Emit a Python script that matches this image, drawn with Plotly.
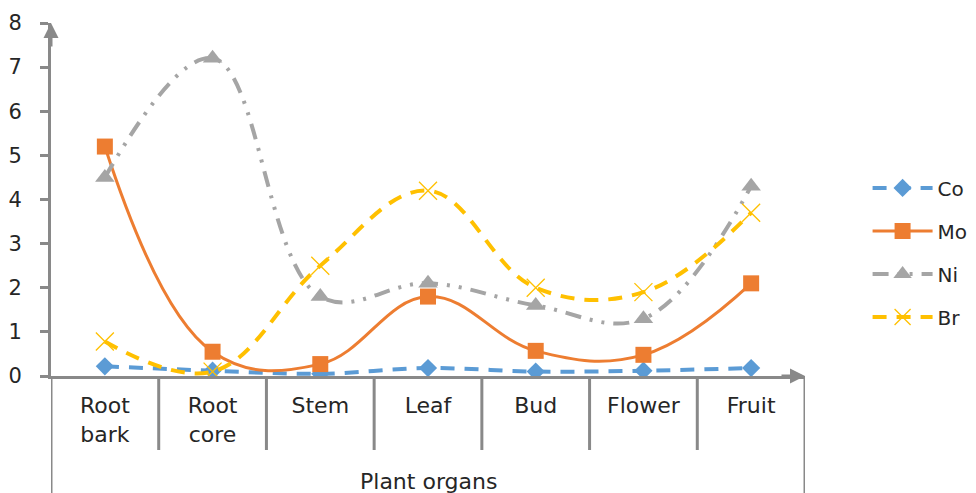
import plotly.graph_objects as go

categories = ["Root<br>bark", "Root<br>core", "Stem", "Leaf", "Bud", "Flower", "Fruit"]
co = [0.22, 0.12, 0.05, 0.18, 0.10, 0.12, 0.18]
mo = [5.20, 0.55, 0.27, 1.80, 0.57, 0.48, 2.10]
ni = [4.50, 7.20, 1.80, 2.10, 1.60, 1.30, 4.30]
br = [0.78, 0.10, 2.50, 4.20, 2.00, 1.90, 3.70]
y_ticks = [0, 1, 2, 3, 4, 5, 6, 7, 8]
x_title = "Plant organs"

AX = "#898989"
TXT = "#262626"
FONT = "DejaVu Sans"

fig = go.Figure()
idx = list(range(len(categories)))

fig.add_trace(go.Scatter(x=idx, y=co, name="Co", mode="lines+markers", legendgroup="co",
                         line=dict(color="#5B9BD5", width=4, dash="14px,10px", shape="spline", smoothing=1),
                         marker=dict(symbol="diamond", size=14, color="#5B9BD5")))
fig.add_trace(go.Scatter(x=idx, y=mo, name="Mo", mode="lines+markers", legendgroup="mo",
                         line=dict(color="#ED7D31", width=3, shape="spline", smoothing=1.15),
                         marker=dict(symbol="square", size=16, color="#ED7D31")))
fig.add_trace(go.Scatter(x=idx, y=ni, name="Ni", mode="lines+markers", legendgroup="ni",
                         line=dict(color="#A5A5A5", width=4, dash="16px,9px,3px,9px,3px,9px", shape="spline", smoothing=1.1),
                         marker=dict(symbol="triangle-up", size=17, color="#A5A5A5")))
fig.add_trace(go.Scatter(x=idx, y=br, name="Br", mode="lines+markers", legendgroup="br",
                         line=dict(color="#FFC000", width=4, dash="14px,10px", shape="spline", smoothing=1.1),
                         marker=dict(symbol="x-thin-open", size=18, color="#FFC000", line=dict(width=1.3, color="#FFC000"))))

# page is offset by the default 8px body margin, so the figure is 8px smaller
W, H = 968, 485
L, R, T, B = 43, 171, 15, 117
ph = H - T - B

shapes = []
for i in range(len(categories) + 1):
    edge = i in (0, len(categories))
    shapes.append(dict(type="line", xref="x", yref="paper", x0=i - 0.5, x1=i - 0.5,
                       y0=0, y1=(-(H - T - ph) / ph) if edge else -74 / ph,
                       line=dict(color=AX, width=3)))

annotations = [
    dict(text=x_title, xref="paper", yref="paper", x=0.5, y=-105 / ph, yanchor="middle",
         showarrow=False, font=dict(size=22, color=TXT, family=FONT)),
    dict(x=1, y=0, xref="paper", yref="y", ax=-25, ay=0, showarrow=True, arrowhead=2,
         arrowsize=1, arrowwidth=3, arrowcolor=AX, text=""),
    dict(x=0, y=8, xref="paper", yref="y", ax=0, ay=25, showarrow=True, arrowhead=2,
         arrowsize=1, arrowwidth=3, arrowcolor=AX, text=""),
]

fig.update_layout(
    width=W, height=H, margin=dict(l=L, r=R, t=T, b=B, autoexpand=False),
    paper_bgcolor="white", plot_bgcolor="white",
    font=dict(family=FONT, color=TXT, size=21),
    shapes=shapes, annotations=annotations,
    legend=dict(x=1.083, y=0.35, xanchor="left", yanchor="middle", font=dict(size=20, color=TXT),
                tracegroupgap=14, itemwidth=60),
)
fig.update_xaxes(range=[-0.5, 6.5], tickvals=idx, ticktext=categories, showline=True, linecolor=AX,
                 linewidth=3, ticks="", showgrid=False, zeroline=False, ticklabelstandoff=8,
                 tickfont=dict(size=22, color=TXT), automargin=False)
fig.update_yaxes(range=[0, 8], tickvals=y_ticks, showline=True, linecolor=AX, linewidth=3,
                 ticks="outside", ticklen=8, tickwidth=3, tickcolor=AX, showgrid=False, zeroline=False,
                 ticklabelstandoff=14, tickfont=dict(size=21, color=TXT), automargin=False)

fig.write_html("out.html")
